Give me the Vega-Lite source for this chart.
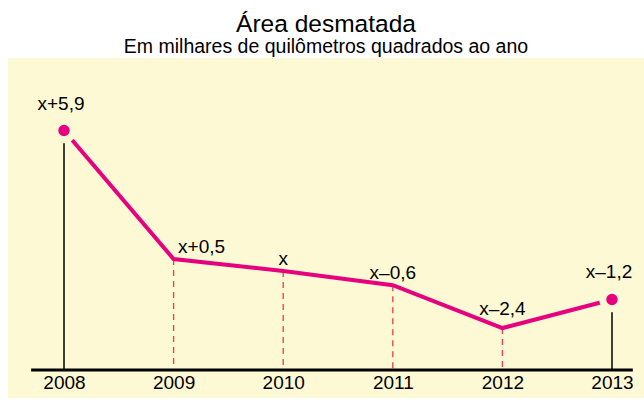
{
  "$schema": "https://vega.github.io/schema/vega-lite/v6.json",
  "width": 636,
  "height": 340,
  "autosize": {"type": "none"},
  "padding": {"left": 8, "top": 58, "right": 0, "bottom": 3},
  "background": "white",
  "view": {"fill": "#fef9d5", "stroke": null},
  "title": {
    "text": "Área desmatada",
    "subtitle": "Em milhares de quilômetros quadrados ao ano",
    "font": "Liberation Sans",
    "fontSize": 24.5,
    "fontWeight": "normal",
    "color": "black",
    "subtitleFont": "Liberation Sans",
    "subtitleFontSize": 19.5,
    "subtitleColor": "black",
    "subtitlePadding": 0,
    "anchor": "middle",
    "offset": 1
  },
  "datasets": {
    "series": [
      {"year": 2008, "value": 12.9, "label": "x+5,9", "group": "end"},
      {"year": 2009, "value": 7.5, "label": "x+0,5", "group": "right"},
      {"year": 2010, "value": 7.0, "label": "x", "group": "mid"},
      {"year": 2011, "value": 6.4, "label": "x–0,6", "group": "mid"},
      {"year": 2012, "value": 4.6, "label": "x–2,4", "group": "low"},
      {"year": 2013, "value": 5.8, "label": "x–1,2", "group": "end"}
    ],
    "baseline": [{"start": 2007.7, "stop": 2013.19, "level": 2.84}]
  },
  "encoding": {
    "x": {
      "field": "year",
      "type": "quantitative",
      "scale": {"domain": [2007.489, 2013.292], "nice": false, "zero": false},
      "axis": {
        "orient": "bottom",
        "offset": -28,
        "values": [2008, 2009, 2010, 2011, 2012, 2013],
        "format": "d",
        "domain": false,
        "ticks": false,
        "grid": false,
        "title": null,
        "labelFont": "Liberation Sans",
        "labelFontSize": 19,
        "labelColor": "black",
        "labelPadding": 3
      }
    },
    "y": {
      "field": "value",
      "type": "quantitative",
      "scale": {"domain": [1.66, 15.95], "nice": false, "zero": false},
      "axis": null
    }
  },
  "layer": [
    {
      "data": {"name": "series"},
      "transform": [{"filter": "datum.group != 'end'"}, {"calculate": "2.84", "as": "base"}],
      "mark": {"type": "rule", "color": "#ec3b4e", "strokeWidth": 1.3, "strokeDash": [6, 5]},
      "encoding": {"y2": {"field": "base"}}
    },
    {
      "data": {"name": "series"},
      "transform": [{"filter": "datum.group == 'end'"}, {"calculate": "2.84", "as": "base"}],
      "mark": {"type": "rule", "color": "black", "strokeWidth": 1.5},
      "encoding": {"y2": {"field": "base"}}
    },
    {
      "data": {"name": "baseline"},
      "mark": {"type": "rule", "color": "black", "strokeWidth": 3},
      "encoding": {
        "x": {"field": "start", "type": "quantitative"},
        "x2": {"field": "stop"},
        "y": {"field": "level", "type": "quantitative"}
      }
    },
    {
      "data": {"name": "series"},
      "mark": {"type": "line", "color": "#e6007e", "strokeWidth": 4, "strokeJoin": "miter"}
    },
    {
      "data": {"name": "series"},
      "transform": [{"filter": "datum.group == 'end'"}],
      "mark": {"type": "point", "filled": true, "fill": "#e6007e", "stroke": "#fef9d5", "strokeWidth": 7, "size": 340, "opacity": 1, "strokeOpacity": 1}
    },
    {
      "data": {"name": "series"},
      "transform": [{"filter": "datum.group == 'end'"}],
      "mark": {"type": "text", "font": "Liberation Sans", "fontSize": 19, "color": "black", "baseline": "alphabetic", "dy": -21, "dx": -3},
      "encoding": {"text": {"field": "label"}}
    },
    {
      "data": {"name": "series"},
      "transform": [{"filter": "datum.group == 'right'"}],
      "mark": {"type": "text", "font": "Liberation Sans", "fontSize": 19, "color": "black", "baseline": "alphabetic", "dy": -6, "dx": 28},
      "encoding": {"text": {"field": "label"}}
    },
    {
      "data": {"name": "series"},
      "transform": [{"filter": "datum.group == 'mid'"}],
      "mark": {"type": "text", "font": "Liberation Sans", "fontSize": 19, "color": "black", "baseline": "alphabetic", "dy": -6},
      "encoding": {"text": {"field": "label"}}
    },
    {
      "data": {"name": "series"},
      "transform": [{"filter": "datum.group == 'low'"}],
      "mark": {"type": "text", "font": "Liberation Sans", "fontSize": 19, "color": "black", "baseline": "alphabetic", "dy": -13},
      "encoding": {"text": {"field": "label"}}
    }
  ]
}
